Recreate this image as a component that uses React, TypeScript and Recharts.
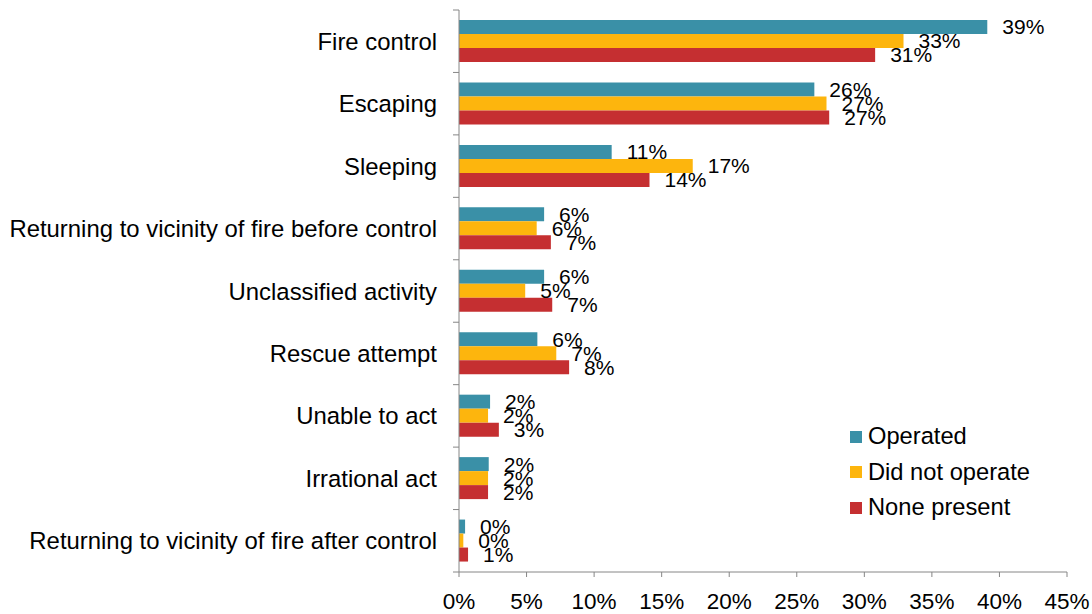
import React from 'react';
import { BarChart, Bar, XAxis, YAxis, LabelList } from 'recharts';

const categories = [
  'Fire control',
  'Escaping',
  'Sleeping',
  'Returning to vicinity of fire before control',
  'Unclassified activity',
  'Rescue attempt',
  'Unable to act',
  'Irrational act',
  'Returning to vicinity of fire after control',
];

const operated = [39.1, 26.3, 11.3, 6.3, 6.3, 5.8, 2.3, 2.2, 0.45];
const didNotOperate = [32.9, 27.2, 17.3, 5.75, 4.9, 7.2, 2.15, 2.15, 0.32];
const nonePresent = [30.8, 27.4, 14.1, 6.8, 6.9, 8.15, 2.95, 2.15, 0.67];

const xTicks = [0, 5, 10, 15, 20, 25, 30, 35, 40, 45];

const seriesInfo = [
  { key: 'operated', name: 'Operated', color: '#3A90A7' },
  { key: 'didNotOperate', name: 'Did not operate', color: '#FDB50D' },
  { key: 'nonePresent', name: 'None present', color: '#C52F31' },
];

const data = categories.map((c, i) => ({
  category: c,
  operated: operated[i],
  didNotOperate: didNotOperate[i],
  nonePresent: nonePresent[i],
}));

const FONT = '"Liberation Sans", Arial, sans-serif';
const TOP = 10;
const BOTTOM_AXIS = 42;
const HEIGHT = 614;
const BAND = (HEIGHT - TOP - BOTTOM_AXIS) / categories.length;

const CategoryTick = ({ x, y, payload, index }: any) => {
  const lineX1 = x + 16;
  const lineX2 = x + 22;
  return (
    <g>
      <text x={x} y={y} dy="0.36em" textAnchor="end" fontSize={23.9} fill="#000" fontFamily={FONT}>
        {payload.value}
      </text>
      <line x1={lineX1} x2={lineX2} y1={y - BAND / 2} y2={y - BAND / 2} stroke="#868686" />
      {index === categories.length - 1 && (
        <line x1={lineX1} x2={lineX2} y1={y + BAND / 2} y2={y + BAND / 2} stroke="#868686" />
      )}
    </g>
  );
};

const ChartLegend = () => (
  <div
    style={{
      position: 'absolute',
      left: 850,
      top: 419,
      fontFamily: FONT,
      fontSize: 23.7,
      color: '#000',
    }}
  >
    {seriesInfo.map(s => (
      <div key={s.key} style={{ display: 'flex', alignItems: 'center', height: 35.5, whiteSpace: 'nowrap' }}>
        <span style={{ width: 12, height: 12, background: s.color, marginRight: 6, display: 'inline-block' }} />
        <span>{s.name}</span>
      </div>
    ))}
  </div>
);

const App: React.FC = () => {
  return (
    <div style={{ position: 'absolute', left: 0, top: 0, width: 1092, height: HEIGHT }}>
      <BarChart
        width={1092}
        height={HEIGHT}
        data={data}
        layout="vertical"
        margin={{ top: TOP, right: 25, left: 0, bottom: 0 }}
        barSize={14}
        barGap={0}
      >
        <XAxis
          type="number"
          domain={[0, 45]}
          ticks={xTicks}
          tickFormatter={v => `${v}%`}
          height={BOTTOM_AXIS}
          stroke="#868686"
          tickSize={5}
          tickMargin={16}
          tick={{ fill: '#000', fontSize: 22.5, fontFamily: FONT }}
          interval={0}
        />
        <YAxis
          type="category"
          dataKey="category"
          width={459}
          stroke="#868686"
          tickLine={false}
          tickSize={6}
          tickMargin={16}
          tick={<CategoryTick />}
          interval={0}
        />
        {seriesInfo.map(s => (
          <Bar key={s.key} dataKey={s.key} name={s.name} fill={s.color} isAnimationActive={false}>
            <LabelList
              dataKey={s.key}
              position="right"
              offset={15}
              formatter={(v: any) => `${Math.round(v)}%`}
              style={{ fill: '#000', fontSize: 21, fontFamily: FONT }}
            />
          </Bar>
        ))}
      </BarChart>
      <ChartLegend />
    </div>
  );
};

export default App;
